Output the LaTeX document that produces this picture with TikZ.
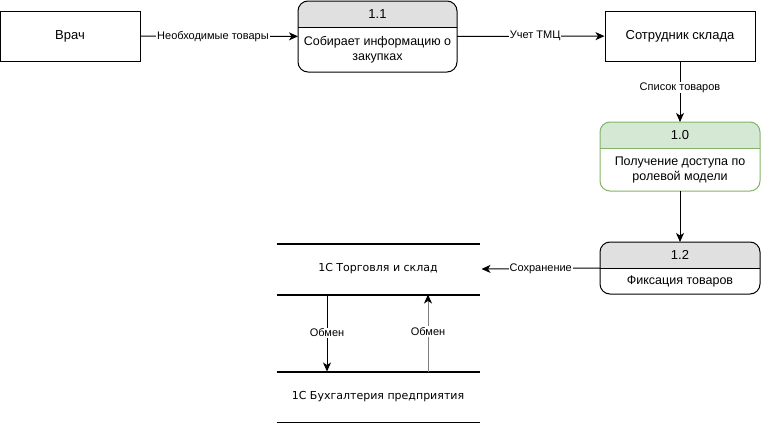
\documentclass[tikz,border=0pt]{standalone}
\usepackage{fontspec}
\setmainfont{Liberation Sans}
\newfontfamily\storefont{DejaVu Sans}
\usepackage{tikz}
\usetikzlibrary{arrows.meta, calc, positioning}

\definecolor{hdrgray}{HTML}{E0E0E0}
\definecolor{hdrgreen}{HTML}{D5E8D4}
\definecolor{bordergreen}{HTML}{82B366}

% process box: name, position, size, number, text, header fill, border
\newcommand{\dfdproc}[7]{%
    \node[proc, #3] (#1) at #2 {};
    \begin{scope}
        \clip[rounded corners=10pt] (#1.south west) rectangle (#1.north east);
        \fill[#6] (#1.north west) rectangle ([yshift=-26pt]#1.north east);
    \end{scope}
    \draw[#7] ([yshift=-26pt]#1.north west) -- ([yshift=-26pt]#1.north east);
    \draw[#7, rounded corners=10pt] (#1.south west) rectangle (#1.north east);
    \node[font=\fontsize{13}{15}\selectfont] (#1-num) at ([yshift=-13pt]#1.north) {#4};
    \node[txt] (#1-txt) at ($(#1.south)!0.5!([yshift=-26pt]#1.north)$) {#5};
}

\begin{document}
\begin{tikzpicture}[
            x = 1pt,
            y = -1pt,
            > = {Stealth[length=9pt, width=8pt, inset=2.5pt, black]},
            line width = 1pt,
            proc/.style = {inner sep=0pt, outer sep=0pt},
            ext/.style = {draw, inner sep=0pt, minimum width=140pt, minimum height=50pt,
                          font=\fontsize{13}{15}\selectfont},
            txt/.style = {align=center, font=\fontsize{12.5}{15}\selectfont},
            store/.style = {inner sep=0pt, minimum width=202pt, minimum height=50pt,
                            font=\storefont\fontsize{11}{13}\selectfont},
            lbl/.style = {fill=white, inner sep=1pt, font=\fontsize{11}{13}\selectfont},
            node distance = 159pt,
            on grid
        ]
        \useasboundingbox (0,0) rectangle (761,423);

        \node[ext] (V) at (70,36) {Врач};
        \node[ext, minimum width=150pt] (S) at (680,36) {Сотрудник склада};

        \dfdproc{p11}{(377.5,36.5)}{minimum width=159pt, minimum height=71pt}{1.1}{Собирает информацию о\\закупках}{hdrgray}{black}
        \dfdproc{p10}{(680,156.5)}{minimum width=160pt, minimum height=69pt}{1.0}{Получение доступа по\\ролевой модели}{hdrgreen}{bordergreen}
        \dfdproc{p12}{(680,268)}{minimum width=160pt, minimum height=52pt}{1.2}{Фиксация товаров}{hdrgray}{black}

        \node[store] (D1) at (378,269) {1С Торговля и склад};
        \node[store] (D2) at (378,397) {1С Бухгалтерия предприятия};
        \foreach \d in {D1, D2} {
            \draw[line width=2pt] (\d.north west) -- (\d.north east);
            \draw[line width=2pt] (\d.south west) -- (\d.south east);
        }

        \draw[->] (V) -- node[lbl, pos=0.46] {Необходимые товары} (p11);
        \draw[->] (p11) -- node[lbl, pos=0.53] {Учет ТМЦ} (S);
        \draw[->] (S) -- node[lbl, pos=0.43] {Список товаров} (p10);
        \draw[->] (p10) -- (p12);
        \draw[->] (p12.west) -- node[lbl] {Сохранение} ([xshift=2pt]D1.east);
        \draw[->] ([xshift=-51pt]D1.south) -- node[lbl] {Обмен} ([xshift=-51pt]D2.north);
        \draw[->, draw=gray] ([xshift=50pt]D2.north) -- node[lbl, pos=0.52] {Обмен} ([xshift=50pt]D1.south);
\end{tikzpicture}
\end{document}
